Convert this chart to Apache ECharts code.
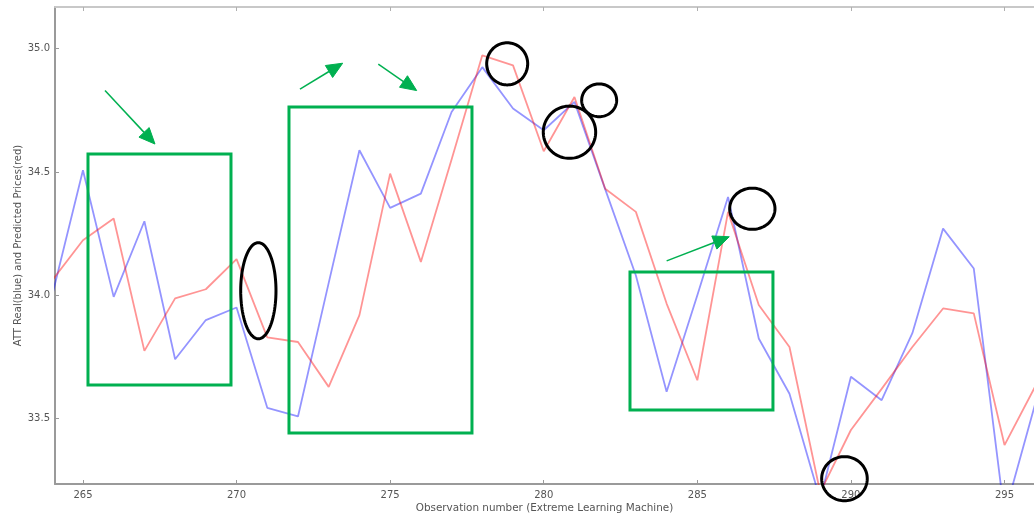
<!DOCTYPE html>
<html>
<head>
<meta charset="utf-8">
<script src="https://cdn.jsdelivr.net/npm/echarts@6/dist/echarts.min.js"></script>
<style>
  html, body { margin: 0; padding: 0; background: #ffffff; }
  #chart { width: 1034px; height: 518px; }
</style>
</head>
<body>
<div id="chart"></div>
<script>
// Observation indices and prices
const observations = [264, 265, 266, 267, 268, 269, 270, 271, 272, 273, 274, 275, 276, 277, 278, 279, 280,
                      281, 282, 283, 284, 285, 286, 287, 288, 289, 290, 291, 292, 293, 294, 295, 296];
const realPrices = [34.00, 34.507, 33.993, 34.30, 33.74, 33.899, 33.95, 33.543, 33.508, 34.05, 34.588,
                    34.354, 34.412, 34.743, 34.925, 34.757, 34.669, 34.784, 34.43, 34.08, 33.608, 34.00,
                    34.398, 33.824, 33.60, 33.17, 33.669, 33.574, 33.846, 34.27, 34.108, 33.11, 33.56];
const predictedPrices = [34.06, 34.223, 34.311, 33.774, 33.987, 34.024, 34.146, 33.829, 33.81, 33.628, 33.919,
                         34.493, 34.135, 34.55, 34.973, 34.932, 34.584, 34.804, 34.432, 34.338, 33.966, 33.655,
                         34.338, 33.96, 33.79, 33.20, 33.453, 33.62, 33.79, 33.946, 33.926, 33.392, 33.63];

// Tick positions
const xTicks = [265, 270, 275, 280, 285, 290, 295];
const yTicks = [33.5, 34.0, 34.5, 35.0];

// Highlight boxes: [x1, yTop, x2, yBottom] in data units
const highlightBoxes = [
  [265.164, 34.573, 269.819, 33.636],
  [271.707, 34.763, 277.664, 33.441],
  [282.808, 34.094, 287.462, 33.534]
];
// Trend arrows: [xStart, yStart, xTip, yTip] in data units
const trendArrows = [
  [265.718, 34.830, 267.345, 34.613],
  [272.065, 34.836, 273.455, 34.941],
  [274.614, 34.937, 275.864, 34.830],
  [284.002, 34.139, 286.040, 34.237]
];
// Marked spots (ellipses): [xLeft, yTop, xRight, yBottom] in data units
const markedSpots = [
  [270.135, 34.213, 271.284, 33.823],
  [278.143, 35.024, 279.478, 34.853],
  [281.235, 34.857, 282.374, 34.724],
  [279.985, 34.767, 281.691, 34.555],
  [286.053, 34.434, 287.528, 34.267],
  [289.048, 33.345, 290.532, 33.166]
];

const X_MIN = 264.09, X_MAX = 295.96;
const Y_MIN = 33.234, Y_MAX = 35.169;

const spineColor = '#9a9a9a';
const labelColor = '#555555';
const fontFamily = 'DejaVu Sans';

const chart = echarts.init(document.getElementById('chart'), null, { renderer: 'canvas' });

const pair = (xs, ys) => xs.map((x, i) => [x, ys[i]]);

const option = {
  animation: false,
  backgroundColor: '#ffffff',
  grid: { left: 55, right: 0, top: 7, bottom: 34, containLabel: false },
  xAxis: [
    {
      type: 'value', min: X_MIN, max: X_MAX, position: 'bottom',
      axisLine: { show: true, onZero: false, lineStyle: { color: spineColor, width: 2 } },
      axisTick: { show: true, inside: true, length: 4, customValues: xTicks, lineStyle: { color: spineColor } },
      axisLabel: { show: true, customValues: xTicks, color: labelColor, fontSize: 10, fontFamily, margin: 6 },
      splitLine: { show: false },
      name: 'Observation number (Extreme Learning Machine)',
      nameLocation: 'middle', nameGap: 19, nameMoveOverlap: false,
      nameTextStyle: { color: labelColor, fontSize: 10.4, fontFamily }
    },
    {
      type: 'value', min: X_MIN, max: X_MAX, position: 'top',
      axisLine: { show: true, onZero: false, lineStyle: { color: '#c8c8c8', width: 2 } },
      axisTick: { show: true, inside: true, length: 4, customValues: xTicks, lineStyle: { color: '#b0b0b0' } },
      axisLabel: { show: false },
      splitLine: { show: false }
    }
  ],
  yAxis: {
    type: 'value', min: Y_MIN, max: Y_MAX,
    axisLine: { show: true, onZero: false, lineStyle: { color: spineColor, width: 2 } },
    axisTick: { show: true, inside: true, length: 4, customValues: yTicks, lineStyle: { color: spineColor } },
    axisLabel: { show: true, customValues: yTicks, color: labelColor, fontSize: 10, fontFamily, margin: 5,
                 formatter: v => v.toFixed(1) },
    splitLine: { show: false },
    name: 'ATT Real(blue) and Predicted Prices(red)',
    nameLocation: 'middle', nameGap: 32, nameMoveOverlap: false,
    nameTextStyle: { color: labelColor, fontSize: 10, fontFamily }
  },
  series: [
    {
      name: 'Real', type: 'line', data: pair(observations, realPrices),
      showSymbol: false, symbol: 'none', clip: true,
      lineStyle: { color: 'rgba(0,0,255,0.42)', width: 1.8 }
    },
    {
      name: 'Predicted', type: 'line', data: pair(observations, predictedPrices),
      showSymbol: false, symbol: 'none', clip: true,
      lineStyle: { color: 'rgba(255,0,0,0.42)', width: 1.8 }
    }
  ]
};

chart.setOption(option);

// Overlay annotations, positioned through the chart's own coordinate system
const toPx = (x, y) => chart.convertToPixel({ xAxisIndex: 0, yAxisIndex: 0 }, [x, y]);
const green = '#00b050';
const graphics = [];

highlightBoxes.forEach(([x1, y1, x2, y2]) => {
  const a = toPx(x1, y1), b = toPx(x2, y2);
  graphics.push({
    type: 'rect', z: 100,
    shape: { x: a[0], y: a[1], width: b[0] - a[0], height: b[1] - a[1] },
    style: { fill: 'none', stroke: green, lineWidth: 3 }
  });
});

trendArrows.forEach(([x1, y1, x2, y2]) => {
  const s = toPx(x1, y1), t = toPx(x2, y2);
  const dx = t[0] - s[0], dy = t[1] - s[1];
  const len = Math.hypot(dx, dy);
  const ux = dx / len, uy = dy / len;
  const headLen = 16, headHalf = 7;
  const bx = t[0] - ux * headLen, by = t[1] - uy * headLen;
  graphics.push({
    type: 'line', z: 100,
    shape: { x1: s[0], y1: s[1], x2: bx, y2: by },
    style: { stroke: green, lineWidth: 1.5 }
  });
  graphics.push({
    type: 'polygon', z: 100,
    shape: { points: [[t[0], t[1]], [bx - uy * headHalf, by + ux * headHalf], [bx + uy * headHalf, by - ux * headHalf]] },
    style: { fill: green, stroke: green, lineWidth: 1 }
  });
});

markedSpots.forEach(([x1, y1, x2, y2]) => {
  const a = toPx(x1, y1), b = toPx(x2, y2);
  const cx = (a[0] + b[0]) / 2, cy = (a[1] + b[1]) / 2;
  const rx = Math.abs(b[0] - a[0]) / 2, ry = Math.abs(b[1] - a[1]) / 2;
  const pts = [];
  for (let i = 0; i < 96; i++) {
    const t = (i / 96) * Math.PI * 2;
    pts.push([cx + rx * Math.cos(t), cy + ry * Math.sin(t)]);
  }
  graphics.push({
    type: 'polygon', z: 100,
    shape: { points: pts },
    style: { fill: 'none', stroke: '#000000', lineWidth: 3 }
  });
});

chart.setOption({ graphic: { elements: graphics } });
</script>
</body>
</html>
